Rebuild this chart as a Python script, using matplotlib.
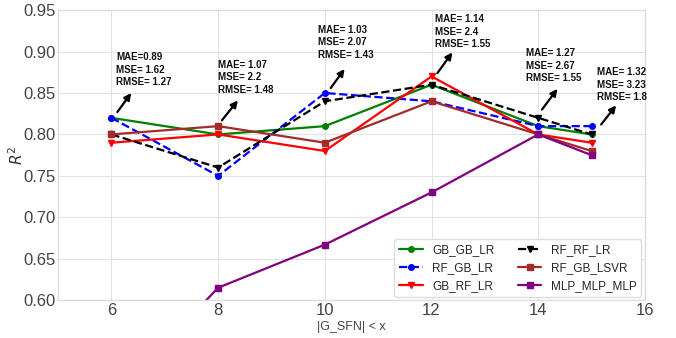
import matplotlib
matplotlib.use("Agg")
import matplotlib.pyplot as plt

# ── Data ───────────────────────────────────────────────────────────────────────
x = [6, 8, 10, 12, 14, 15]
gb_gb_lr    = [0.82, 0.80, 0.81, 0.86, 0.81, 0.80]
rf_gb_lr    = [0.82, 0.75, 0.85, 0.84, 0.81, 0.81]
gb_rf_lr    = [0.79, 0.80, 0.78, 0.87, 0.80, 0.79]
rf_rf_lr    = [0.80, 0.76, 0.84, 0.86, 0.82, 0.80]
rf_gb_lsvr  = [0.80, 0.81, 0.79, 0.84, 0.80, 0.78]
mlp_mlp_mlp = [0.48, 0.615, 0.667, 0.73, 0.80, 0.775]

notes = ["MAE=0.89\nMSE= 1.62\nRMSE= 1.27",
         "MAE= 1.07\nMSE= 2.2\nRMSE= 1.48",
         "MAE= 1.03\nMSE= 2.07\nRMSE= 1.43",
         "MAE= 1.14\nMSE= 2.4\nRMSE= 1.55",
         "MAE= 1.27\nMSE= 2.67\nRMSE= 1.55",
         "MAE= 1.32\nMSE= 3.23\nRMSE= 1.8"]
# (tail, head, text position) for each annotation
note_pos = [((6.11, 0.827), (6.37, 0.850), (6.09, 0.899)),
            ((8.07, 0.817), (8.37, 0.841), (8.00, 0.890)),
            ((10.11, 0.856), (10.37, 0.879), (9.87, 0.932)),
            ((12.11, 0.874), (12.39, 0.899), (12.07, 0.945)),
            ((14.07, 0.830), (14.36, 0.855), (13.78, 0.904)),
            ((15.18, 0.812), (15.46, 0.835), (15.10, 0.881))]

plt.style.use("seaborn-v0_8-whitegrid")
plt.rcParams["font.family"] = ["Liberation Sans", "DejaVu Sans"]

fig = plt.figure(figsize=(6.76, 3.38), dpi=100)
ax = fig.add_axes([0.086, 0.112, 0.868, 0.858])

lw, ms = 1.6, 4
ax.plot(x, gb_gb_lr, color="green", marker="o", lw=lw, ms=ms, label="GB_GB_LR")
ax.plot(x, rf_gb_lr, color="blue", marker="o", ls="--", lw=lw, ms=ms, label="RF_GB_LR")
ax.plot(x, gb_rf_lr, color="red", marker="v", lw=lw, ms=ms, label="GB_RF_LR")
ax.plot(x, rf_rf_lr, color="black", marker="v", ls="--", lw=lw, ms=ms, label="RF_RF_LR")
ax.plot(x, rf_gb_lsvr, color="brown", marker="s", lw=lw, ms=ms, label="RF_GB_LSVR")
ax.plot(x, mlp_mlp_mlp, color="purple", marker="s", lw=lw, ms=ms, label="MLP_MLP_MLP")

for txt, (tail, head, tp) in zip(notes, note_pos):
    ax.annotate("", xy=head, xytext=tail,
                arrowprops=dict(arrowstyle="-|>", color="black", lw=1.6,
                                mutation_scale=10, shrinkA=0, shrinkB=0))
    ax.text(tp[0], tp[1], txt, fontsize=7, fontweight="bold", va="top",
            ha="left", linespacing=1.3, color="#111111")

ax.set_xlim(5, 16)
ax.set_ylim(0.60, 0.95)
ax.set_xticks([6, 8, 10, 12, 14, 16])
ax.set_yticks([0.60, 0.65, 0.70, 0.75, 0.80, 0.85, 0.90, 0.95])
ax.set_yticklabels([f"{v:.2f}" for v in ax.get_yticks()])
ax.tick_params(labelsize=12, labelcolor="#444444", pad=2)
ax.set_xlabel("|G_SFN| < x", fontsize=9, color="#444444", labelpad=2)
ax.set_ylabel("$R^2$", fontsize=11, color="#333333", labelpad=-2)
for s in ax.spines.values():
    s.set_visible(True)
    s.set_color("#dddddd")
ax.grid(color="#e3e3e3", lw=0.8)

ax.legend(loc="lower right", ncol=2, fontsize=8.5, frameon=True,
          facecolor="white", edgecolor="#dddddd", framealpha=1,
          handlelength=2.0, columnspacing=2.0, borderaxespad=0.3)

fig.savefig("out.png", dpi=100)
